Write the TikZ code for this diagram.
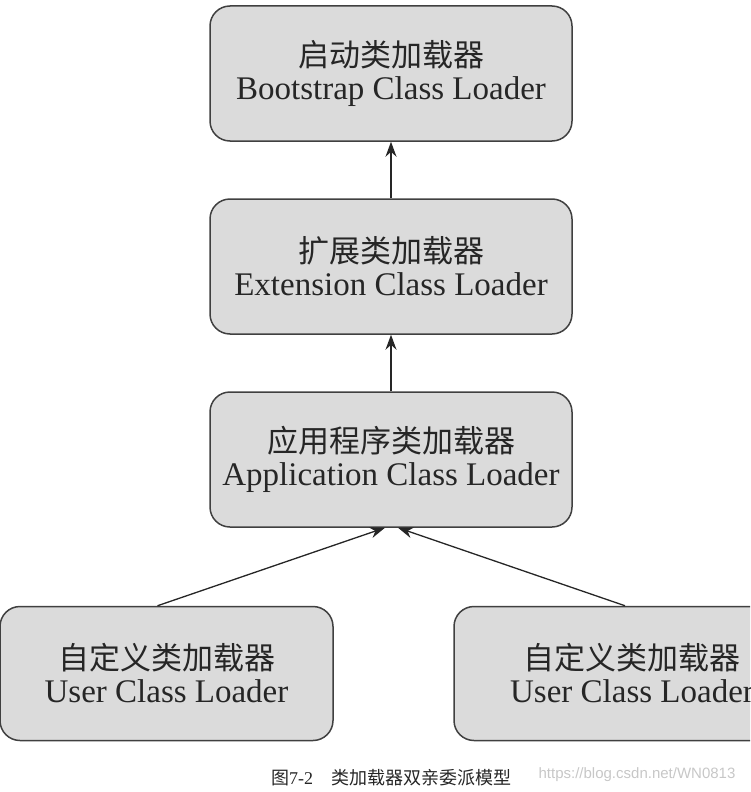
\documentclass[tikz,border=0pt]{standalone}
\usepackage{fontspec}
\setmainfont{Liberation Serif}
\setsansfont{Liberation Sans}
\newfontfamily\cjk{Noto Sans CJK SC}
\usetikzlibrary{arrows.meta,calc}
\newcommand{\zh}[1]{{\cjk\fontsize{31}{32}\selectfont #1}}
\tikzset{
  loader/.style={draw=black!75, line width=1.5pt, fill=black!14, rounded corners=20pt,
    minimum width=362pt, minimum height=135pt, align=center,
    font=\fontsize{33}{33}\selectfont, text=black!85},
  arr/.style={line width=1.3pt, black!85, -{Stealth[length=15pt,width=11pt]}}
}
\begin{document}
\begin{tikzpicture}[x=1pt,y=-1pt]
\useasboundingbox (0,0) rectangle (750,792);
\clip (0,0) rectangle (750,792);
\node[loader] (boot) at (391,73.5) {\zh{启动类加载器}\\Bootstrap Class Loader};
\node[loader] (ext) at (391,266.5) {\zh{扩展类加载器}\\Extension Class Loader};
\node[loader] (app) at (391,459.5) {\zh{应用程序类加载器}\\Application Class Loader};
\node[loader, minimum width=333pt, minimum height=134pt] (ul) at (166.5,673.5) {\zh{自定义类加载器}\\User Class Loader};
\node[loader, minimum width=356pt, minimum height=134pt] (ur) at (632,673.5) {\zh{自定义类加载器}\\User Class Loader};
\draw[arr] (ext.north) -- (boot.south);
\draw[arr] (app.north) -- (ext.south);
\draw[arr] ($(ul.north)+(-9,0)$) -- ($(app.south)+(-6,0)$);
\draw[arr] ($(ur.north)+(-7,0)$) -- ($(app.south)+(7,0)$);
\node[font=\fontsize{18}{20}\selectfont, text=black!85] (cap) at (391,778) {{\cjk 图}7-2\hspace{18pt}{\cjk 类加载器双亲委派模型}};
\node[font=\sffamily\fontsize{15}{16}\selectfont, text=black!22] (wm) at (637,775) {https://blog.csdn.net/WN0813};
\end{tikzpicture}
\end{document}
